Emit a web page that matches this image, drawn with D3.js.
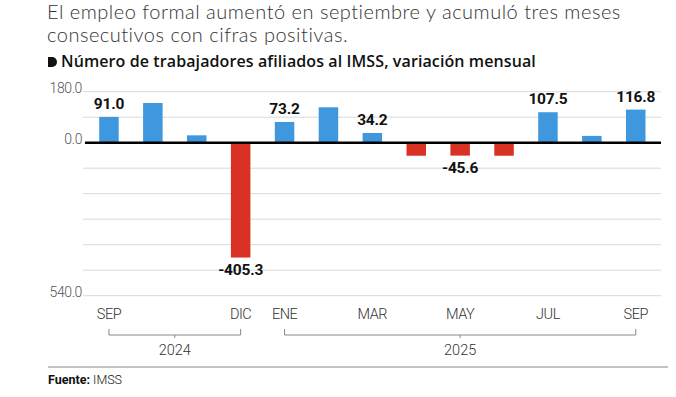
<!DOCTYPE html>
<html>
<head>
<meta charset="utf-8">
<script src="https://cdn.jsdelivr.net/npm/d3@7"></script>
<style>
  body { margin: 0; background: #fff; }
  svg { display: block; }
</style>
</head>
<body>
<svg id="chart" width="676" height="397"></svg>
<script>
// Data
const months = ["SEP", "OCT", "NOV", "DIC", "ENE", "FEB", "MAR", "ABR", "MAY", "JUN", "JUL", "AGO", "SEP25"];
const values = [91.0, 140, 26, -405.3, 73.2, 125, 34.2, -46, -45.6, -46, 107.5, 24, 116.8];
const valueLabels = ["91.0", "", "", "-405.3", "73.2", "", "34.2", "", "-45.6", "", "107.5", "", "116.8"];
const tickMonths = ["SEP", "DIC", "ENE", "MAR", "MAY", "JUL", "SEP25"];
const yTicks = [180, 90, 0, -90, -180, -270, -360, -450, -540];
const yLabelTicks = [180, 0, -540];
const years = [
  { label: "2024", from: "SEP", to: "DIC" },
  { label: "2025", from: "ENE", to: "SEP25" }
];

const svg = d3.select("#chart");
const FONT_LIGHT = "Roboto, 'Open Sans', sans-serif";

// Heading
const heading = ["El empleo formal aumentó en septiembre y acumuló tres meses",
                 "consecutivos con cifras positivas."];
svg.selectAll(".head")
  .data(heading)
  .join("text")
  .attr("x", 47)
  .attr("y", (d, i) => 19 + i * 23)
  .style("font-family", "Lato, sans-serif")
  .style("font-weight", 300)
  .style("font-size", "20px")
  .style("letter-spacing", "0.5px")
  .style("fill", "#333")
  .text(d => d);

// subtitle bullet
svg.append("path")
  .attr("d", "M48,57 h4 a5,5 0 0 1 0,10 h-4 z")
  .attr("fill", "#111");

svg.append("text")
  .attr("x", 61).attr("y", 67)
  .style("font-family", "'Open Sans', sans-serif")
  .style("font-weight", 600)
  .style("font-size", "16px")
  .style("letter-spacing", "0.1px")
  .style("fill", "#111")
  .text("Número de trabajadores afiliados al IMSS, variación mensual");

// Scales
const x = d3.scaleBand()
  .domain(months)
  .range([87, 657.7])
  .paddingInner(0.556)
  .paddingOuter(0.278);

const y = d3.scaleLinear()
  .domain([-540, 180])
  .range([295.7, 91.7]);

const g = svg.append("g");

// gridlines
g.selectAll(".grid")
  .data(yTicks.filter(d => d !== 0))
  .join("line")
  .attr("x1", 83).attr("x2", 661)
  .attr("y1", d => y(d)).attr("y2", d => y(d))
  .attr("stroke", "#d9d9d9")
  .attr("stroke-width", 1);

// y labels
g.selectAll(".ylab")
  .data(yLabelTicks)
  .join("text")
  .attr("x", 82)
  .attr("y", d => y(d) + 1)
  .attr("text-anchor", "end")
  .style("font-family", FONT_LIGHT)
  .style("font-weight", 300)
  .style("font-size", "14px")
  .style("letter-spacing", "-0.4px")
  .style("fill", "#555")
  .text(d => Math.abs(d).toFixed(1));

// bars
g.selectAll(".bar")
  .data(months)
  .join("rect")
  .attr("x", d => x(d))
  .attr("width", x.bandwidth())
  .attr("y", (d, i) => y(Math.max(0, values[i])))
  .attr("height", (d, i) => Math.abs(y(values[i]) - y(0)))
  .attr("fill", (d, i) => values[i] >= 0 ? "#3f97de" : "#d93224");

// zero line
g.append("line")
  .attr("x1", 85).attr("x2", 661)
  .attr("y1", y(0)).attr("y2", y(0))
  .attr("stroke", "#000")
  .attr("stroke-width", 2.5);

// value labels
g.selectAll(".vlab")
  .data(months)
  .join("text")
  .attr("x", d => x(d) + x.bandwidth() / 2)
  .attr("y", (d, i) => values[i] >= 0 ? y(values[i]) - 8 : y(values[i]) + 17)
  .attr("text-anchor", "middle")
  .style("font-family", "Roboto, sans-serif")
  .style("font-weight", 700)
  .style("font-size", "15.5px")
  .style("letter-spacing", "-0.2px")
  .style("fill", "#111")
  .text((d, i) => valueLabels[i]);

// month ticks
g.selectAll(".xlab")
  .data(tickMonths)
  .join("text")
  .attr("x", d => x(d) + x.bandwidth() / 2)
  .attr("y", 319)
  .attr("text-anchor", "middle")
  .style("font-family", FONT_LIGHT)
  .style("font-weight", 300)
  .style("font-size", "14.5px")
  .style("letter-spacing", "-0.5px")
  .style("fill", "#333")
  .text(d => d.replace("25", ""));

// year brackets
const by = 335;
years.forEach(yr => {
  const x0 = x(yr.from) + x.bandwidth() / 2;
  const x1 = x(yr.to) + x.bandwidth() / 2;
  const mid = (x0 + x1) / 2;
  g.append("path")
    .attr("d", `M${x0},${by - 6} V${by} H${x1} V${by - 6} M${mid},${by} V${by + 3}`)
    .attr("fill", "none")
    .attr("stroke", "#888")
    .attr("stroke-width", 1);
  g.append("text")
    .attr("x", mid).attr("y", by + 20)
    .attr("text-anchor", "middle")
    .style("font-family", FONT_LIGHT)
    .style("font-weight", 300)
    .style("font-size", "14.5px")
    .style("fill", "#333")
    .text(yr.label);
});

// footer
svg.append("line")
  .attr("x1", 48).attr("x2", 668)
  .attr("y1", 367).attr("y2", 367)
  .attr("stroke", "#888")
  .attr("stroke-width", 1);

const src = svg.append("text")
  .attr("x", 48).attr("y", 384)
  .style("font-family", "Roboto, sans-serif")
  .style("font-size", "12.5px")
  .style("fill", "#111");
src.append("tspan").style("font-weight", 700).text("Fuente:");
src.append("tspan").style("font-weight", 300).text(" IMSS");
</script>
</body>
</html>
